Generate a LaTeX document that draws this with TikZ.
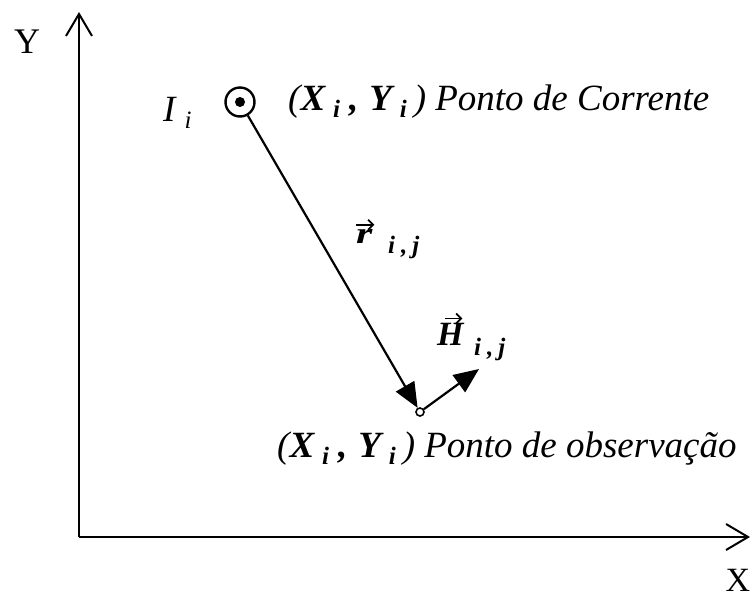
\documentclass[tikz,border=0pt]{standalone}
\usepackage{fontspec}
\setmainfont{Liberation Serif}
\usetikzlibrary{arrows.meta}
\newcommand{\sbs}[1]{\raisebox{-0.2em}{\fontsize{25}{25}\selectfont\bfseries\itshape #1}}
\newcommand{\ptlabel}{(\textbf{X}\kern8pt\sbs{i}\kern9pt\textbf{,}\kern11pt\textbf{Y}\kern8pt\sbs{i}\kern7pt)\kern9pt}
\begin{document}
\begin{tikzpicture}[x=1pt,y=-1pt,
  lbl/.style={inner sep=0pt, font=\fontsize{37}{40}\selectfont\itshape},
  axis/.style={line width=2pt, -{Straight Barb[length=22pt,width=26pt,line width=2pt]}},
  vec/.style={line width=2.2pt, -{Triangle[length=25pt,width=21pt]}},
  vecacc/.style={line width=1.8pt, -{Straight Barb[length=5pt,width=10pt,line width=1.8pt]}}]
\useasboundingbox (0,0) rectangle (753,598);
% axes
\coordinate (O) at (79,537);
\coordinate (YT) at (79,12);
\coordinate (XT) at (750,537);
\draw[axis] (O) -- (YT);
\draw[axis] (O) -- (XT);
\node[inner sep=0pt, font=\fontsize{36}{40}\selectfont, anchor=base] (ylab) at (27,53) {Y};
\node[inner sep=0pt, font=\fontsize{34}{36}\selectfont, anchor=base] (xlab) at (738,591) {X};
% current point
\node[circle, draw, line width=2.4pt, minimum size=29pt, inner sep=0pt] (cur) at (240,102) {};
\fill (cur.center) circle (5pt);
\node[lbl, anchor=base west] (Il) at (163,121) {I\kern9pt\raisebox{-0.2em}{\fontsize{25}{25}\selectfont\itshape i}};
\node[lbl, anchor=base west] (cpt) at (288,110) {\ptlabel Ponto de Corrente};
% observation point
\node[circle, draw, line width=1.6pt, fill=white, minimum size=8pt, inner sep=0pt] (obs) at (420,412) {};
\coordinate (Ht) at (479,369);
\draw[vec] (cur) -- (obs);
\draw[vec] (obs) -- (Ht);
\node[lbl, anchor=base west] (opt) at (277,457) {\ptlabel Ponto de observação};
% vector labels
\node[inner sep=0pt, font=\fontsize{30}{34}\selectfont\bfseries\itshape, anchor=base west] (rl) at (356,243) {\scalebox{1.4}[1]{r}};
\node[lbl, anchor=base west] (rs) at (388,246) {\sbs{i\kern6pt,\kern5pt j}};
\draw[vecacc] ([xshift=-8pt,yshift=4pt]rl.north) -- ([xshift=10pt,yshift=4pt]rl.north);
\node[inner sep=0pt, font=\fontsize{34}{36}\selectfont\bfseries\itshape, anchor=base west] (Hl) at (437,345) {H};
\node[lbl, anchor=base west] (Hs) at (474,348) {\sbs{i\kern6pt,\kern5pt j}};
\draw[vecacc] ([xshift=-5pt,yshift=4pt]Hl.north) -- ([xshift=12pt,yshift=4pt]Hl.north);
\end{tikzpicture}
\end{document}
